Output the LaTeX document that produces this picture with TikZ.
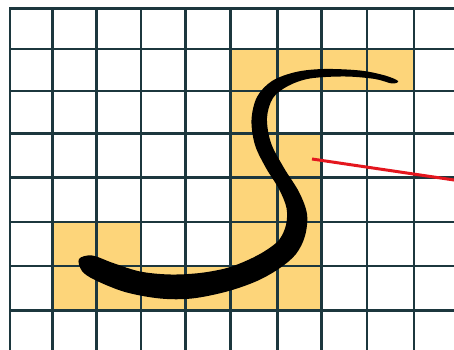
\documentclass[tikz,border=0pt]{standalone}
\definecolor{gridc}{RGB}{28,55,62}
\definecolor{cellc}{RGB}{253,213,122}
\definecolor{redc}{RGB}{228,22,30}
\begin{document}
\begin{tikzpicture}[x=0.02cm,y=-0.02cm,
  gridline/.style={draw=gridc,line width=1.6pt,line cap=rect},
  cell/.style={fill=cellc},
  brush/.style={fill=black},
  pointer/.style={draw=redc,line width=1.7pt}]
\useasboundingbox (0,0) rectangle (454,350);
\fill[white] (0,0) rectangle (454,350);
% highlighted cells
\path[cell] (230.7,49) rectangle (414,91);
\path[cell] (230.7,91) rectangle (277.3,133.3);
\path[cell] (230.7,133.3) rectangle (321.7,310.3);
\path[cell] (52.7,222) rectangle (141,310.3);
\path[cell] (141,266) rectangle (230.7,310.3);
% grid
\begin{scope}
\clip (0,0) rectangle (454,350);
\foreach \gx in {10,52.7,96.7,141,185.7,230.7,277.3,321.7,367,414}
  \path[gridline] (\gx,8.7) -- (\gx,352);
\foreach \gy in {8.7,49,91,133.3,177.5,222,266,310.3}
  \path[gridline] (10,\gy) -- (456,\gy);
\end{scope}
% brush stroke S
\path[brush] plot[smooth cycle,tension=0.55] coordinates {
 (398,81) (385,75.5) (360,70.5) (324,69) (296,72) (272,81) (257,97)
 (251.5,120) (255,145) (266,168) (279,189) (286.5,208) (286,225) (279,240)
 (265,251) (248,260) (227,268) (200,273) (170,274.5) (140,271.5)
 (113,263) (92,255.5) (79,259)
 (82,271) (95,280) (125,292) (160,298.5) (192,298.5) (227,291.5)
 (257,281) (280,268) (296,254) (305,236) (307,214) (299,192)
 (284,168) (271,143) (267,118) (273,98) (288,86) (310,78.5) (345,76.5)
 (375,79) (392,83.5)};
% red pointer
\coordinate (pstart) at (312,159);
\coordinate (pend) at (456,180.3);
\path[pointer] (pstart) -- (pend);
\end{tikzpicture}
\end{document}
